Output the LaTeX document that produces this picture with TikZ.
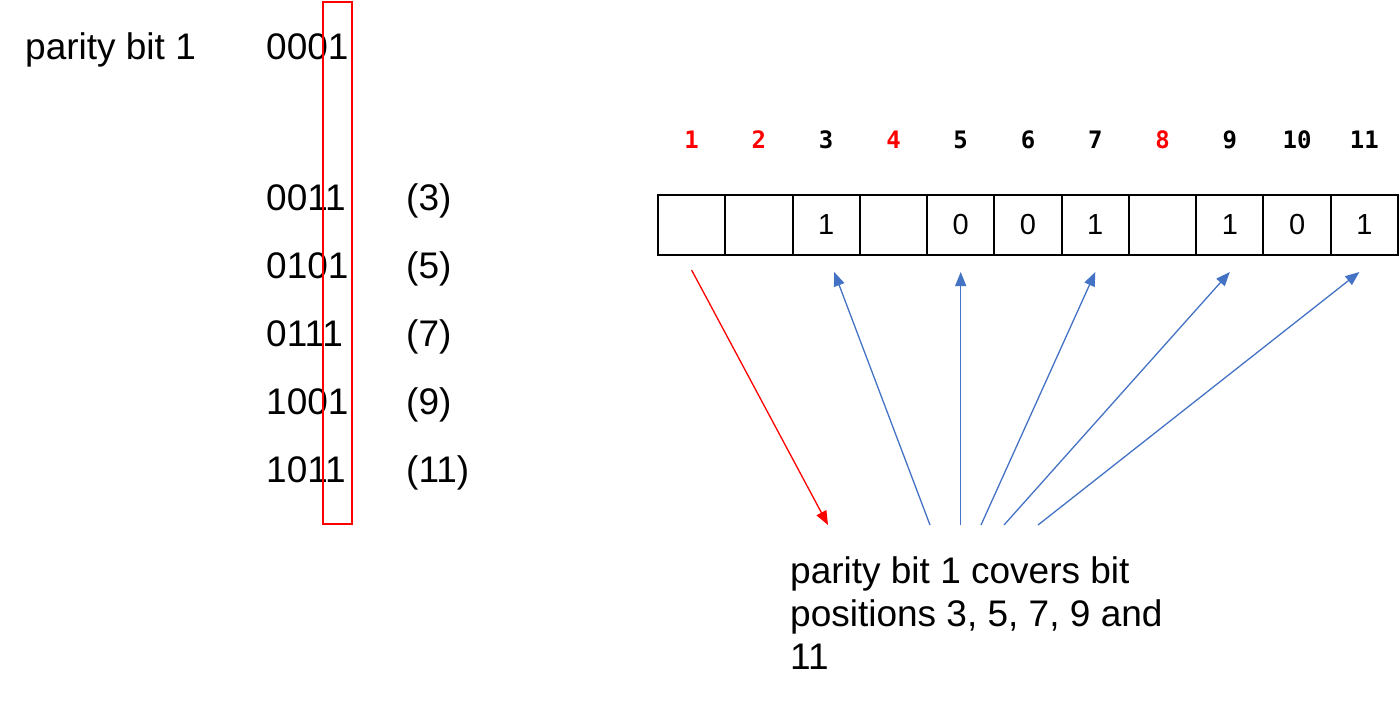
\documentclass[tikz,border=0pt]{standalone}
\usepackage{fontspec}
\setmainfont{Liberation Sans}
\newfontfamily\posfont{DejaVu Sans Mono}
\usetikzlibrary{arrows.meta}
\definecolor{linkblue}{RGB}{68,114,196}
\tikzset{
    big/.style={font=\fontsize{37}{43}\selectfont, inner sep=0pt},
    cell/.style={draw, line width=2pt, minimum width=67.3pt, minimum height=60pt,
        inner sep=0pt, font=\fontsize{29}{32}\selectfont},
    bitnum/.style={font=\posfont\bfseries\fontsize{24}{28}\selectfont},
    paritynum/.style={bitnum, text=red},
    cover/.style={-{Triangle[length=14pt,width=11pt]}, line width=1.3pt, linkblue},
    parity/.style={-{Triangle[length=14pt,width=11pt]}, line width=1.3pt, red}
}

\begin{document}
\begin{tikzpicture}[x=1pt, y=-1pt]
    \useasboundingbox (0,0) rectangle (1400,705);
    % left column
    \node[big, anchor=base west] (P1) at (25,59) {parity bit 1};
    \node[big, anchor=base west] (B1) at (266,59) {0001};
    \node[big, anchor=base west] (B3) at (266,210) {0011};
    \node[big, anchor=base west] (B5) at (266,278) {0101};
    \node[big, anchor=base west] (B7) at (266,346) {0111};
    \node[big, anchor=base west] (B9) at (266,414) {1001};
    \node[big, anchor=base west] (B11) at (266,482) {1011};
    \node[big, anchor=base west] (D3) at (406,210) {(3)};
    \node[big, anchor=base west] (D5) at (406,278) {(5)};
    \node[big, anchor=base west] (D7) at (406,346) {(7)};
    \node[big, anchor=base west] (D9) at (406,414) {(9)};
    \node[big, anchor=base west] (D11) at (406,482) {(11)};
    \node[draw=red, line width=2pt, minimum width=29pt, minimum height=522pt,
        inner sep=0pt] (col) at (337.5,263) {};
    % positions
    \node[paritynum] (n1) at (691.6,140) {1};
    \node[paritynum] (n2) at (758.9,140) {2};
    \node[bitnum] (n3) at (826.2,140) {3};
    \node[paritynum] (n4) at (893.5,140) {4};
    \node[bitnum] (n5) at (960.7,140) {5};
    \node[bitnum] (n6) at (1028.0,140) {6};
    \node[bitnum] (n7) at (1095.3,140) {7};
    \node[paritynum] (n8) at (1162.5,140) {8};
    \node[bitnum] (n9) at (1229.8,140) {9};
    \node[bitnum] (n10) at (1297.1,140) {10};
    \node[bitnum] (n11) at (1364.4,140) {11};
    % code word
    \node[cell] (c1) at (691.6,225) {};
    \node[cell] (c2) at (758.9,225) {};
    \node[cell] (c3) at (826.2,225) {1};
    \node[cell] (c4) at (893.5,225) {};
    \node[cell] (c5) at (960.7,225) {0};
    \node[cell] (c6) at (1028.0,225) {0};
    \node[cell] (c7) at (1095.3,225) {1};
    \node[cell] (c8) at (1162.5,225) {};
    \node[cell] (c9) at (1229.8,225) {1};
    \node[cell] (c10) at (1297.1,225) {0};
    \node[cell] (c11) at (1364.4,225) {1};
    % explanation
    \node[big, anchor=north west, align=left] (txt) at (790,556)
        {parity bit 1 covers bit\\positions 3, 5, 7, 9 and\\11};
    \coordinate (r1) at (828,525);
    \coordinate (s3) at (930,525);
    \coordinate (s5) at (960.7,525);
    \coordinate (s7) at (981,525);
    \coordinate (s9) at (1004,525);
    \coordinate (s11) at (1038,525);
    \draw[parity] ([yshift=-14pt]c1.south) -- (r1);
    \draw[cover] (s3) -- ([xshift=8pt,yshift=-16pt]c3.south);
    \draw[cover] (s5) -- ([yshift=-16pt]c5.south);
    \draw[cover] (s7) -- ([yshift=-16pt]c7.south);
    \draw[cover] (s9) -- ([yshift=-16pt]c9.south);
    \draw[cover] (s11) -- ([xshift=-5pt,yshift=-16pt]c11.south);
\end{tikzpicture}
\end{document}
